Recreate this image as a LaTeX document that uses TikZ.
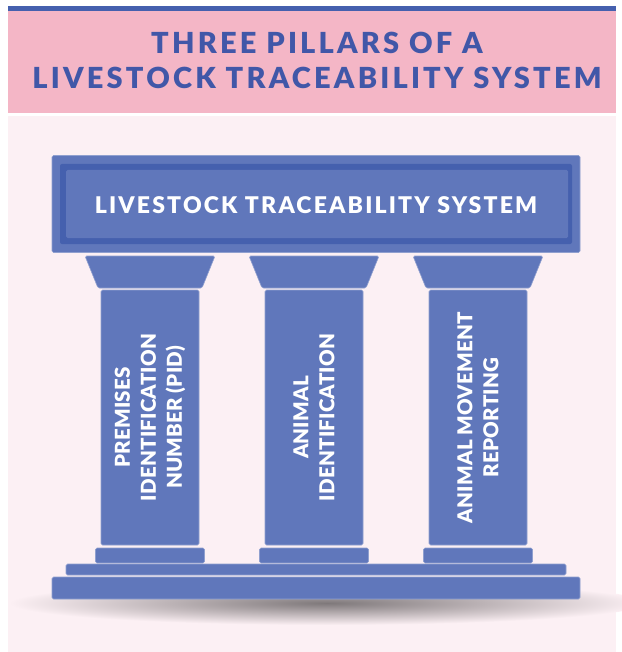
\documentclass[tikz,border=0pt]{standalone}
\usepackage{fontspec}
\setmainfont{Lato}
\newfontfamily\heavyfont{Lato Black}
\definecolor{bgpink}{HTML}{FCF0F4}
\definecolor{bandpink}{HTML}{F4B6C6}
\definecolor{pillarblue}{HTML}{6077BB}
\definecolor{darkblue}{HTML}{4560AE}
\definecolor{titleblue}{HTML}{4157A8}
\begin{document}
\begin{tikzpicture}[x=1pt,y=-1pt,
  part/.style={fill=pillarblue,draw=pillarblue!70!white,line width=0.6pt,rounded corners=1.5pt},
  titletext/.style={text=titleblue,font=\fontsize{29}{29}\selectfont\heavyfont\addfontfeatures{LetterSpace=11}},
  pillartext/.style={text=white,font=\fontsize{20.5}{26}\selectfont\heavyfont\addfontfeatures{LetterSpace=1},align=center,rotate=90}]
\useasboundingbox (0,0) rectangle (621,652);
\fill[white] (0,0) rectangle (621,652);
\fill[bgpink] (8,116) rectangle (616,652);
\fill[bandpink] (8,11) rectangle (616,113);
\fill[darkblue] (8,6) rectangle (616,11);
% title
\node[titletext,anchor=base] (t1) at (317,54) {THREE PILLARS OF A};
\node[titletext,anchor=base] (t2) at (317,89) {LIVESTOCK TRACEABILITY SYSTEM};
% shadow
\shade[inner color=black!50!bgpink, outer color=bgpink] (327,603) ellipse [x radius=318, y radius=22];
% entablature
\node[part,minimum width=528pt,minimum height=97pt,inner sep=0pt] (ent) at (316,204) {};
\fill[darkblue,rounded corners=2pt] (60,164) rectangle (572,244);
\fill[pillarblue,rounded corners=1.5pt] (66,170) rectangle (568,238);
\node[text=white,font=\fontsize{23}{23}\selectfont\heavyfont\addfontfeatures{LetterSpace=9.5},anchor=base] (entt) at (316,213) {LIVESTOCK TRACEABILITY SYSTEM};
% pillars
\foreach \c/\n in {150/p1,314/p2,478/p3}{
  \draw[part] (\c-65,256) -- (\c+65,256) -- (\c+52,288) -- (\c-52,288) -- cycle;
  \node[part,minimum width=98pt,minimum height=255pt,inner sep=0pt] (\n) at (\c,417.5) {};
  \node[part,minimum width=109pt,minimum height=15pt,inner sep=0pt] (\n b) at (\c,555.5) {};
}
\node[pillartext] (l1) at (p1) {PREMISES\\IDENTIFICATION\\NUMBER (PID)};
\node[pillartext] (l2) at (p2) {ANIMAL\\IDENTIFICATION};
\node[pillartext] (l3) at (p3) {ANIMAL MOVEMENT\\REPORTING};
% base
\node[part,minimum width=500pt,minimum height=11pt,inner sep=0pt] (plinth) at (316,569.5) {};
\node[part,minimum width=528pt,minimum height=22pt,inner sep=0pt] (slab) at (316,588) {};
\end{tikzpicture}
\end{document}
